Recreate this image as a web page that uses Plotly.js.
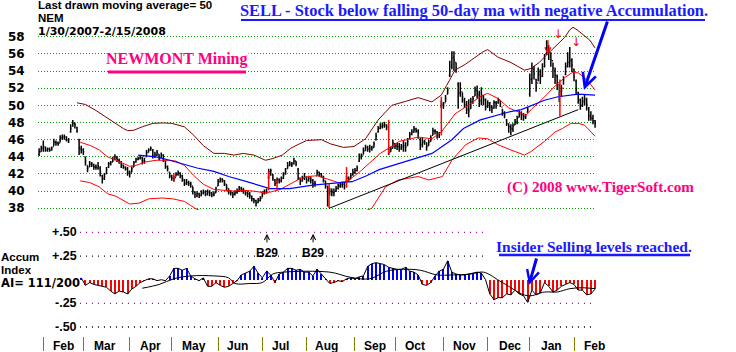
<!DOCTYPE html>
<html><head><meta charset="utf-8">
<script src="https://cdn.plot.ly/plotly-3.0.1.min.js"></script>
<style>html,body{margin:0;padding:0;background:#fff;}#chart{width:736px;height:352px;}</style>
</head><body><div id="chart"></div>
<script>
// Trading-day index: 0 = 1/30/2007 ... 264 = 2/15/2008
const priceOpen = [
44.3,44.6,45.0,45.1,44.8,44.9,44.8,45.2,45.7,45.6,
45.6,46.2,46.3,46.3,45.9,46.9,47.6,47.9,47.4,46.0,
44.9,44.8,44.0,43.0,42.8,43.1,43.0,42.8,42.7,42.7,
41.8,41.5,42.0,42.8,43.2,43.4,43.7,43.9,43.6,43.4,
43.0,42.8,42.6,42.2,42.1,42.8,43.4,43.7,43.8,43.9,
43.5,44.0,44.5,44.8,44.8,44.0,44.2,44.3,43.9,44.2,
43.5,42.8,42.2,41.7,41.5,41.6,42.0,42.1,41.8,41.3,
40.9,41.0,40.9,40.6,39.9,39.5,39.7,39.5,39.8,39.9,
39.6,39.9,39.8,39.5,39.8,40.6,41.1,41.4,41.2,40.8,
40.3,39.9,39.8,39.6,39.8,40.0,40.3,40.2,40.0,39.8,
39.7,39.4,39.1,38.9,38.7,38.9,39.2,39.7,39.9,41.6,
42.2,41.9,41.3,41.0,41.3,41.2,41.5,42.0,42.6,43.0,
43.2,43.2,43.5,42.5,41.5,41.2,41.5,41.6,41.3,41.5,
41.2,40.8,41.8,42.2,42.0,41.7,41.2,40.6,39.8,40.0,
39.8,40.0,40.3,40.6,40.7,40.8,41.2,41.5,41.4,41.9,
42.2,42.4,43.5,44.0,44.2,44.7,45.1,44.9,45.0,45.1,
46.0,46.9,47.3,47.5,47.6,47.7,44.9,44.6,45.0,45.5,
45.3,45.2,45.0,45.1,45.3,45.3,46.1,46.6,46.9,47.2,
47.0,46.0,45.4,45.7,45.6,45.3,45.8,46.5,47.0,46.9,
46.6,49.9,50.1,50.3,51.3,53.5,54.6,55.6,55.0,52.5,
51.4,51.6,50.6,50.1,49.6,49.6,50.3,51.1,51.7,51.2,
50.6,51.0,50.6,49.9,50.2,49.8,49.7,50.3,50.3,50.6,
49.8,49.1,48.3,47.8,47.5,47.2,47.7,48.0,48.6,49.1,
48.9,48.6,49.2,51.3,53.1,54.2,53.0,52.6,53.6,53.4,
54.5,56.0,56.7,56.1,55.2,54.0,53.4,52.4,51.6,52.0,
53.6,54.6,55.0,55.3,54.2,52.8,51.5,50.6,50.0,50.4,
50.6,49.7,48.7,48.5,48.2];
const priceHigh = [
45.0,45.3,45.9,45.2,45.1,45.1,45.2,46.1,45.9,45.8,
46.5,46.6,46.6,46.4,46.2,47.8,48.3,48.0,47.5,46.1,
45.3,45.0,44.0,43.0,43.5,43.4,43.2,43.1,43.4,42.9,
41.9,42.1,42.8,43.4,43.5,44.0,44.3,44.1,43.8,43.5,
43.1,42.9,42.8,42.4,42.9,43.5,43.9,44.0,44.2,44.0,
43.9,44.8,45.0,45.2,44.9,44.6,44.8,44.3,44.5,44.3,
43.6,43.0,42.2,41.9,41.8,42.2,42.4,42.2,41.9,41.4,
41.4,41.2,41.1,40.5,40.0,40.0,39.8,40.1,40.2,40.1,
40.2,40.1,39.9,40.0,40.5,41.4,41.6,41.5,41.3,40.8,
40.3,40.1,39.9,40.1,40.3,40.6,40.5,40.4,40.1,40.0,
39.9,39.5,39.2,39.0,39.2,39.4,40.0,40.2,40.3,42.6,
42.6,42.0,41.4,41.6,41.5,41.7,42.2,42.7,43.4,43.5,
43.4,43.9,43.5,42.7,41.6,41.8,42.1,41.7,41.8,41.7,
41.4,41.2,42.5,42.3,42.1,41.8,41.2,40.6,40.4,40.3,
40.3,40.6,40.9,41.0,41.1,41.0,41.8,41.7,42.1,42.6,
42.7,43.0,44.4,44.4,45.1,45.4,45.3,45.4,45.3,45.8,
46.8,47.6,47.9,48.0,48.1,47.8,45.1,45.2,46.0,45.6,
45.6,45.6,45.5,45.9,45.7,46.2,46.9,47.2,47.6,47.4,
47.2,46.2,46.2,46.0,45.7,46.0,46.5,47.4,47.2,47.0,
46.9,50.6,50.4,51.2,52.1,55.2,56.3,56.3,55.0,52.7,
52.7,51.5,50.9,50.5,50.7,50.9,51.1,52.2,52.3,51.7,
52.1,51.2,50.8,50.6,50.4,50.0,50.6,50.5,50.9,50.5,
49.6,49.3,48.4,47.9,47.8,47.9,48.4,48.8,49.4,49.3,
49.1,49.0,49.8,53.7,55.0,54.6,53.1,54.4,54.2,54.9,
56.0,57.6,57.0,56.2,55.0,54.4,53.6,52.5,52.4,53.4,
55.0,56.2,56.8,55.5,54.3,53.0,51.6,50.8,51.0,51.2,
50.9,49.8,49.3,48.9,48.3];
const priceLow = [
44.1,44.6,44.6,44.6,44.6,44.6,44.7,45.3,45.3,45.3,
45.7,46.0,46.0,45.8,45.6,46.8,47.5,47.3,46.8,44.2,
44.4,44.2,43.0,42.2,42.8,42.8,42.5,42.5,42.5,41.7,
40.9,41.3,42.0,42.7,43.0,43.4,43.6,43.4,43.2,42.7,
42.6,42.4,41.8,41.6,42.2,42.8,43.3,43.6,43.7,43.1,
43.2,44.0,44.5,44.7,43.8,43.9,44.1,43.6,43.9,43.4,
42.6,42.3,41.5,41.2,41.1,41.7,41.8,41.5,41.1,40.6,
40.7,40.6,40.4,39.6,39.2,39.3,39.2,39.4,39.6,39.4,
39.5,39.4,39.3,39.4,39.8,40.6,41.0,41.0,40.6,40.0,
39.6,39.5,39.2,39.5,39.7,39.9,39.9,39.7,39.5,39.3,
39.1,38.8,38.6,38.2,38.6,38.8,39.3,39.6,39.7,41.4,
41.8,41.2,40.6,40.9,40.9,41.0,41.4,41.9,42.6,42.9,
42.8,43.1,42.9,41.3,40.7,41.1,41.3,40.9,41.1,40.9,
40.4,40.5,41.8,41.7,41.6,41.0,40.3,38.2,39.5,39.4,
39.4,39.9,40.2,40.4,40.4,40.2,41.1,41.1,41.4,41.8,
42.0,42.3,43.4,43.7,44.3,44.7,44.6,44.5,44.7,45.1,
45.9,46.8,47.2,47.3,47.4,47.1,44.2,44.6,45.0,44.9,
44.8,44.6,44.8,44.6,44.6,45.3,46.1,46.5,46.8,46.8,
46.1,44.8,45.1,45.4,44.7,45.3,45.8,46.5,46.6,46.1,
46.2,49.7,49.6,50.4,51.3,53.3,54.2,54.0,53.8,49.6,
51.0,50.3,49.7,49.0,48.6,49.6,50.2,51.1,50.8,49.8,
50.0,50.0,49.4,49.7,49.3,49.1,49.6,49.6,50.2,49.8,
48.8,48.5,47.6,46.8,46.5,46.9,47.7,47.8,48.6,48.3,
48.2,48.4,49.2,51.0,52.5,53.0,51.6,52.8,52.5,53.3,
54.4,55.9,55.3,54.5,53.2,52.5,51.8,50.4,51.0,52.4,
53.5,54.4,54.4,53.9,52.8,51.3,50.2,49.5,49.8,50.0,
49.4,48.2,48.2,47.8,47.4];
const priceClose = [
44.6,45.0,45.2,44.8,44.9,44.8,45.0,45.7,45.6,45.5,
46.2,46.3,46.3,46.0,46.0,47.3,47.9,47.7,47.0,45.0,
44.8,44.6,43.5,42.6,43.2,43.2,42.8,42.8,42.9,42.3,
41.4,41.7,42.5,43.2,43.3,43.7,44.0,43.7,43.5,43.1,
42.8,42.6,42.3,42.0,42.6,43.3,43.7,43.8,44.0,43.6,
43.5,44.5,44.8,45.0,44.1,44.2,44.5,43.9,44.2,43.8,
42.9,42.6,41.8,41.5,41.4,42.0,42.1,41.8,41.5,41.0,
41.0,40.9,40.8,40.0,39.6,39.7,39.5,39.8,39.9,39.7,
39.9,39.8,39.6,39.7,40.2,41.1,41.3,41.3,41.0,40.4,
39.9,39.8,39.6,39.8,40.0,40.3,40.2,40.0,39.8,39.7,
39.5,39.1,38.9,38.6,38.9,39.1,39.7,39.9,40.0,42.3,
42.4,41.5,40.9,41.3,41.2,41.4,41.8,42.3,43.0,43.2,
43.1,43.5,43.2,41.6,41.1,41.5,41.7,41.3,41.5,41.3,
40.9,40.9,42.2,42.0,41.8,41.4,40.8,40.0,40.0,39.9,
39.9,40.3,40.6,40.8,40.8,40.6,41.5,41.4,41.8,42.2,
42.4,42.7,44.0,44.1,44.7,45.1,44.9,45.0,45.0,45.5,
46.4,47.3,47.6,47.7,47.7,47.5,44.5,44.9,45.6,45.3,
45.2,45.1,45.2,45.3,45.1,45.8,46.6,46.9,47.2,47.0,
46.8,45.5,45.8,45.8,45.2,45.7,46.2,47.0,47.0,46.6,
46.5,50.0,50.0,50.8,51.8,54.0,55.5,55.3,54.4,51.5,
52.0,51.0,50.0,49.5,49.4,50.4,50.8,51.8,51.4,50.5,
51.2,50.7,49.9,50.3,49.8,49.6,50.3,50.2,50.6,50.2,
49.2,48.9,47.9,47.5,47.3,47.6,48.1,48.5,49.0,48.9,
48.7,48.7,49.5,53.0,54.3,53.7,52.1,53.8,53.3,54.2,
55.5,56.8,56.2,55.3,54.3,53.5,52.6,51.9,51.8,53.0,
54.5,55.0,55.2,54.7,53.3,51.9,50.6,50.0,50.5,50.7,
50.1,48.8,48.5,48.2,47.9];

const upperBandX = [18,22,27,32,36,40,42,45,49,54,59,63,69,73.5,78,83,88,92.5,97,102,107.5,111,115.5,119.5,123.5,127,134,138.5,144.5,149.5,155,161,167.5,173,180,186.5,191,193.5,197.5,202.5,207,210.5,213,218,224,230.5,233.5,237.5,241.5,246.5,249.5,252,253.5,255.5,259,261.5,264];
const upperBandY = [50.3,50.1,49.4,48.6,47.9,47.3,47.05,47.1,47.5,47.9,47.95,47.9,47.5,46.5,45.3,44.4,44.4,44.2,44.4,44.2,43.6,43.8,44.2,45.0,45.5,45.9,46.0,45.5,45.1,45.2,46.1,48.3,50.0,50.4,50.9,50.4,51.2,52.3,54.1,54.8,55.6,56.2,56.5,55.6,55.0,54.1,54.3,55.0,56.0,57.2,57.9,58.8,59.1,58.8,58.1,57.6,56.7];
const midBandX = [19.5,24.5,28.5,32.5,36.5,40,43,46,50.5,55.5,62,65,69,73.5,78,83,88,92.5,97,102,107,110,114.5,119.5,123.5,127.5,132,137,142,146,152.5,157,162,166,171,180,186.5,191,197.5,202.5,210,213,218,223,228,231,234,238,242,246,250,253,256,259,262,264];
const midBandY = [45.7,45.3,44.8,44.0,43.6,43.2,42.9,43.0,43.4,43.6,43.6,43.5,43.0,41.8,40.8,40.2,40.1,40.0,40.1,40.0,39.8,39.9,40.2,40.9,41.4,41.7,41.8,41.4,41.0,41.1,42.3,43.3,44.4,45.0,45.8,46.3,46.1,46.9,49.0,49.8,51.1,51.4,50.8,49.7,49.2,48.8,49.6,50.5,51.5,52.5,53.3,53.8,53.8,53.2,52.4,51.8];
const lowerBandX = [19.5,24,28.5,32.5,36.5,40,43,47.5,52,58.5,63.5,69,74,80,95,115,135,150,158,164.5,170.5,180,185,191.5,196,202.5,208.5,213,218,224,230.5,233.5,240,245,248.5,252.5,256,259,263,264];
const lowerBandY = [41.2,41.0,40.5,39.7,39.4,38.95,38.5,38.6,39.1,39.2,39.1,38.8,38.0,37.3,36.8,36.5,36.7,37.2,38.0,40.5,41.3,41.7,41.3,41.7,43.6,45.4,46.2,46.1,45.4,44.8,44.2,44.6,45.8,46.9,47.3,47.9,47.9,47.7,46.7,46.4];
const ma50X = [47,55.5,62,69,75,83,90,98.6,104,109.6,119,130,139,148.6,155.5,161.5,170.7,186.6,196,201.5,209.5,216.3,222.6,229,233.7,240,246.4,252.7,256,264];
const ma50Y = [44.2,44.0,43.6,43.1,42.7,42.3,41.7,41.1,40.7,40.3,40.3,40.7,40.9,41.1,41.8,42.5,43.2,44.4,46.0,47.3,48.3,48.8,49.2,49.5,50.0,50.6,51.0,51.2,51.3,51.2];
const trendX = [137.7, 256];
const trendY = [38.0, 49.5];
const signalX = [64, 109, 113, 137.7, 146, 166, 191, 247.3];
const signalLow = [41.2, 40.1, 40.1, 38.0, 40.4, 44.3, 46.5, 48.7];
const signalHigh = [42.1, 42.3, 41.3, 40.9, 42.8, 48.3, 51.0, 53.0];

const aiDay = [20,22,24,26,28,30,32,34,36,38,40,42,44,46,48,50,52,54,56,58,60,62,64,66,68,70,72,74,76,78,80,82,84,86,88,90,92,94,96,98,100,102,104,106,108,110,112,114,116,118,120,122,124,126,128,130,132,134,136,138,140,142,144,146,148,150,152,154,156,158,160,162,164,166,168,170,172,174,176,178,180,182,184,186,188,190,192,194,196,198,200,202,204,206,208,210,212,214,216,218,220,222,224,226,228,230,232,234,236,238,240,242,244,246,248,250,252,254,256,258,260,262,264];
const aiValue = [
0.02,-0.06,-0.03,-0.05,-0.06,-0.07,-0.08,-0.12,-0.15,-0.12,
-0.13,-0.15,-0.10,-0.07,-0.03,-0.01,0.01,0.01,-0.01,0.00,
-0.01,0.04,0.12,0.12,0.10,0.12,0.04,0.01,-0.01,0.02,
-0.07,-0.07,-0.03,-0.06,-0.08,-0.07,-0.04,-0.01,0.05,0.07,
0.09,0.14,0.07,0.02,0.09,0.05,-0.03,0.06,0.08,0.12,
0.12,0.10,0.11,0.08,0.08,0.04,0.11,0.06,0.01,-0.04,
-0.03,-0.01,-0.02,0.01,0.02,0.01,0.03,0.04,0.14,0.17,
0.18,0.17,0.16,0.13,0.12,0.11,0.11,0.13,0.09,0.08,
0.05,-0.05,-0.06,-0.03,0.04,0.09,0.11,0.20,0.08,0.06,
0.05,0.05,0.06,0.07,0.08,0.07,0.00,-0.15,-0.21,-0.19,
-0.19,-0.15,-0.16,-0.11,-0.15,-0.17,-0.24,-0.11,-0.16,-0.14,
-0.03,-0.07,-0.13,-0.11,-0.07,-0.05,-0.03,-0.05,-0.11,-0.11,
-0.16,-0.15,-0.10];
const aiMaX = [49,57,64,72,83,90,93,100,106,111,116,138,148,157,165,173,181,189,196,205,211,220,232,240,246,252,258,264];
const aiMaY = [-0.09,-0.05,0.01,0.04,0.04,0.02,-0.04,-0.04,-0.03,0.06,0.08,0.08,0.025,0.01,0.09,0.11,0.10,0.05,0.05,0.06,0.08,-0.03,-0.17,-0.13,-0.13,-0.095,-0.085,-0.095];

const monthStartDay = [2,21,43,63,85,106,127,150,169,192,213,233,254];
const monthLabelDay = [11.8,31.3,52.7,73.5,94.4,114.4,136.7,159.5,178.5,202.2,223.6,243.1,263.5];
const monthLabels = ['Feb','Mar','Apr','May','Jun','Jul','Aug','Sep','Oct','Nov','Dec','Jan','Feb'];
const priceTicks = [38,40,42,44,46,48,50,52,54,56,58];
const aiTicks = [0.5, 0.25, -0.25, -0.5];
const aiTickText = ['+.50','+.25','-.25','-.50'];
const aiGridColors = ['#a000a0','#000000','#a000a0','#000000'];
const aiGridEnd = [212, 212, 263.5, 263.5];
const b29Day = [108.2, 130.1];

// ---- layout geometry (pixels) ----
const PL = 38, PW = 558, PB = 336, PH = 316;
const xp = px => (px - PL) / PW;
const yp = py => (PB - py) / PH;

const dayIndex = priceClose.map((_, i) => i);
const SANS = 'Liberation Sans, Arial, sans-serif';
const SERIF = 'Liberation Serif, Times New Roman, serif';
const DIG = 'DejaVu Sans, Verdana, sans-serif';
const PINK = '#ff0080', BLUE = '#1a1aff';

const sigX = [], sigY = [];
signalX.forEach((x, k) => { sigX.push(x, x, null); sigY.push(signalLow[k], signalHigh[k], null); });

const traces = [
  {type:'scatter', mode:'lines', x: upperBandX, y: upperBandY, line:{color:'#800000', width:1}, xaxis:'x', yaxis:'y', hoverinfo:'skip'},
  {type:'scatter', mode:'lines', x: midBandX, y: midBandY, line:{color:'#ff0000', width:1}, xaxis:'x', yaxis:'y', hoverinfo:'skip'},
  {type:'scatter', mode:'lines', x: lowerBandX, y: lowerBandY, line:{color:'#ff0000', width:1}, xaxis:'x', yaxis:'y', hoverinfo:'skip'},
  {type:'scatter', mode:'lines', x: ma50X, y: ma50Y, line:{color:'#0000ff', width:1.2}, xaxis:'x', yaxis:'y', hoverinfo:'skip'},
  {type:'scatter', mode:'lines', x: trendX, y: trendY, line:{color:'#000000', width:1}, xaxis:'x', yaxis:'y', hoverinfo:'skip'},
  {type:'ohlc', x: dayIndex, open: priceOpen, high: priceHigh, low: priceLow, close: priceClose,
   increasing:{line:{color:'#000000', width:1.5}}, decreasing:{line:{color:'#000000', width:1.5}},
   tickwidth:0.45, xaxis:'x', yaxis:'y', hoverinfo:'skip'},
  {type:'scatter', mode:'lines', x: sigX, y: sigY, line:{color:'#ff0000', width:1.5}, xaxis:'x', yaxis:'y', hoverinfo:'skip', connectgaps:false},
  {type:'bar', x: aiDay, y: aiValue, width: 0.95, marker:{color: aiValue.map(v => v >= 0 ? '#0000ff' : '#ff0000'), line:{width:0}}, xaxis:'x', yaxis:'y2', hoverinfo:'skip'},
  {type:'scatter', mode:'lines', x: aiDay, y: aiValue, line:{color:'#000000', width:1}, xaxis:'x', yaxis:'y2', hoverinfo:'skip'},
  {type:'scatter', mode:'lines', x: aiMaX, y: aiMaY, line:{color:'#000000', width:1, shape:'spline'}, xaxis:'x', yaxis:'y2', hoverinfo:'skip'}
];

const ann = [];
function txt(text, px, py, size, family, color, opts) {
  ann.push(Object.assign({text:'<b>'+text+'</b>', xref:'paper', yref:'paper', x: xp(px), y: yp(py),
    xanchor:'left', yanchor:'middle', showarrow:false, borderpad:0, font:{family, size, color}}, opts || {}));
}
txt('Last drawn moving average= 50', 37, 5.5, 11.5, SANS, '#000');
txt('NEM', 37, 18.5, 11.5, SANS, '#000');
txt('1/30/2007-2/15/2008', 37, 31.5, 11, DIG, '#000');
txt('NEWMONT Mining', 105, 59, 16, SERIF, PINK, {bgcolor:'#ffffff'});
txt('SELL - Stock below falling 50-day ma with negative Accumulation.', 239, 10, 16.4, SERIF, BLUE);
txt('(C) 2008 www.TigerSoft.com', 506, 187, 15.2, SERIF, PINK, {bgcolor:'#ffffff'});
txt('Insider Selling levels reached.', 495, 246, 15.5, SERIF, BLUE);
txt('Accum', 0, 256.5, 11.5, SANS, '#000');
txt('Index', 0, 269.5, 11.5, SANS, '#000');
txt('AI= 111/200', 0, 283, 11.5, DIG, '#000');
aiTicks.forEach((v, k) => ann.push({text:'<b>'+aiTickText[k]+'</b>', xref:'paper', yref:'y2', x: xp(78), y: v,
  xanchor:'right', yanchor:'middle', showarrow:false, borderpad:0, font:{family:SANS, size:12.5, color:'#000'}}));
monthLabels.forEach((m, k) => ann.push({text:'<b>'+m+'</b>', xref:'x', yref:'paper', x: monthLabelDay[k], y: yp(346),
  xanchor:'center', yanchor:'middle', showarrow:false, borderpad:0, font:{family:SANS, size:12, color:'#000'}}));
b29Day.forEach(d => {
  ann.push({text:'<b>B29</b>', xref:'x', yref:'y2', x: d, y: 0.282, xanchor:'center', yanchor:'middle', showarrow:false, borderpad:0,
    font:{family:SANS, size:12, color:'#000'}});
  ann.push({text:'', xref:'x', yref:'y2', x: d, y: 0.485, showarrow:true, ax:0, ay:10, arrowhead:5, arrowsize:1, arrowwidth:1, arrowcolor:'#000'});
});
// sell arrows
ann.push({text:'', xref:'x', yref:'y', x: 258.7, y: 51.8, showarrow:true, ax:24, ay:-70, arrowhead:5, arrowsize:0.9, arrowwidth:3, arrowcolor:'#0000ff'});
ann.push({text:'', xref:'x', yref:'y2', x: 232.6, y: -0.056, showarrow:true, ax:8, ay:-28, arrowhead:5, arrowsize:0.8, arrowwidth:3, arrowcolor:'#0000ff'});
ann.push({text:'', xref:'x', yref:'y', x: 241.6, y: 55.9, showarrow:true, ax:0, ay:-16, arrowhead:5, arrowsize:0.8, arrowwidth:1.5, arrowcolor:'#ff0000'});
ann.push({text:'↓', xref:'x', yref:'y', x: 246.4, y: 58.3, showarrow:false, borderpad:0, font:{family:DIG, size:12, color:'#ff0000'}});
ann.push({text:'↓', xref:'x', yref:'y', x: 255.0, y: 57.4, showarrow:false, borderpad:0, font:{family:DIG, size:12, color:'#ff0000'}});

const shapes = [
  {type:'line', xref:'paper', yref:'paper', x0: xp(108), x1: xp(246), y0: yp(72), y1: yp(72), line:{color:PINK, width:3}},
  {type:'line', xref:'paper', yref:'paper', x0: xp(241), x1: xp(705), y0: yp(20), y1: yp(20), line:{color:BLUE, width:2}},
  {type:'line', xref:'paper', yref:'paper', x0: xp(499), x1: xp(690), y0: yp(255), y1: yp(255), line:{color:BLUE, width:2.5}}
];
aiTicks.forEach((v, k) => shapes.push({type:'line', xref:'x', yref:'y2', layer:'below', x0: 19.4, x1: aiGridEnd[k], y0: v, y1: v,
  line:{color: aiGridColors[k], width:1.3, dash:'1px,5px'}}));

const layout = {
  width:736, height:352, autosize:false,
  margin:{l:PL, r:736-PL-PW, t:20, b:352-PB},
  paper_bgcolor:'#ffffff', plot_bgcolor:'#ffffff',
  showlegend:false, hovermode:false, bargap:0,
  xaxis:{domain:[0,1], range:[-0.522, 264.44], anchor:'y2', tickvals: monthStartDay, ticks:'outside', ticklen:14,
    tickcolor:'#808000', tickwidth:1, showticklabels:false, showgrid:false, zeroline:false, showline:false,
    rangeslider:{visible:false}, fixedrange:true},
  yaxis:{domain:[yp(210), 1], range:[37.8, 59.95], anchor:'x', tickvals: priceTicks, ticktext: priceTicks.map(String),
    ticks:'outside', ticklen:10, tickcolor:'rgba(0,0,0,0)', showgrid:true, gridcolor:'#00a000', griddash:'1px,2px', gridwidth:1,
    zeroline:false, showline:false, automargin:false, tickfont:{family:DIG, size:12, color:'#000', weight:'bold'}, fixedrange:true},
  yaxis2:{domain:[0, yp(222)], range:[-0.595, 0.610], anchor:'x', showticklabels:false, showgrid:false, zeroline:false,
    showline:false, ticks:'', fixedrange:true},
  annotations: ann,
  shapes: shapes
};
Plotly.newPlot('chart', traces, layout, {staticPlot:true, displayModeBar:false});
</script></body></html>
